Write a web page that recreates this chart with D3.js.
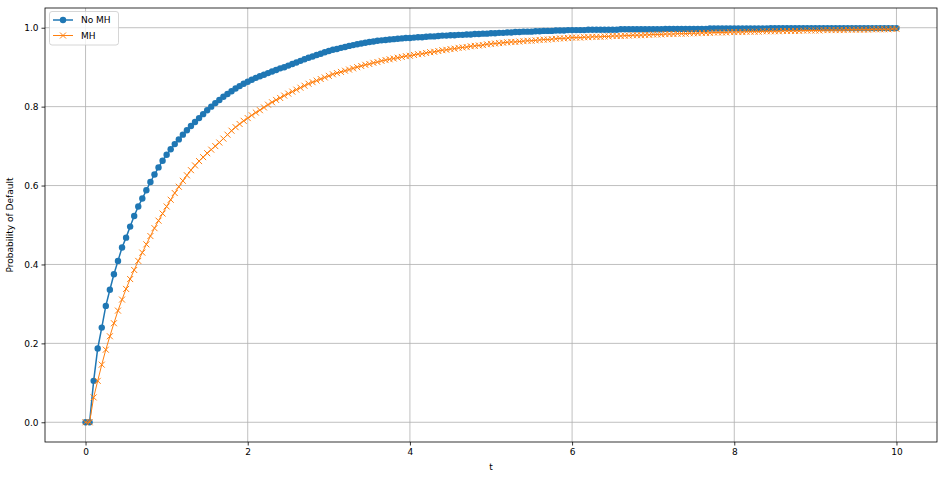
<!DOCTYPE html>
<html>
<head>
<meta charset="utf-8">
<script src="https://cdn.jsdelivr.net/npm/d3@7"></script>
<style>
  html, body { margin: 0; padding: 0; background: #ffffff; }
  svg { display: block; font-family: "DejaVu Sans", sans-serif; }
</style>
</head>
<body>
<svg id="chart" width="944" height="480"></svg>
<script>
// ---- data ----
const seriesNames = ["No MH", "MH"];
const tStep = 0.05;          // time grid spacing
const tCount = 201;          // 0 .. 10
const noMH = [
  0, 0, 0.105, 0.187, 0.240, 0.295, 0.336, 0.375, 0.409, 0.443,
  0.468, 0.496, 0.523, 0.547, 0.567, 0.588, 0.609, 0.628, 0.646, 0.663,
  0.678, 0.692, 0.705, 0.717, 0.729, 0.740, 0.751, 0.761, 0.771, 0.781,
  0.791, 0.800, 0.809, 0.817, 0.825, 0.832, 0.839, 0.846, 0.852, 0.858,
  0.863, 0.868, 0.873, 0.877, 0.881, 0.885, 0.889, 0.893, 0.897, 0.900,
  0.904, 0.908, 0.912, 0.916, 0.920, 0.924, 0.927, 0.931, 0.934, 0.938,
  0.941, 0.944, 0.946, 0.949, 0.951, 0.954, 0.956, 0.958, 0.960, 0.962,
  0.964, 0.965, 0.967, 0.968, 0.969, 0.970, 0.971, 0.972, 0.973, 0.974,
  0.974, 0.975, 0.976, 0.976, 0.977, 0.978, 0.978, 0.979, 0.980, 0.980,
  0.981, 0.981, 0.982, 0.982, 0.983, 0.983, 0.984, 0.984, 0.985, 0.985,
  0.986, 0.986, 0.987, 0.987, 0.988, 0.988, 0.989, 0.989, 0.990, 0.990,
  0.990, 0.991, 0.991, 0.992, 0.992, 0.992, 0.993, 0.993, 0.993, 0.994,
  0.994, 0.994, 0.994, 0.994, 0.995, 0.995, 0.995, 0.995, 0.995, 0.995,
  0.995, 0.995, 0.996, 0.996, 0.996, 0.996, 0.996, 0.996, 0.996, 0.996,
  0.996, 0.996, 0.996, 0.997, 0.997, 0.997, 0.997, 0.997, 0.997, 0.997,
  0.997, 0.997, 0.997, 0.997, 0.998, 0.998, 0.998, 0.998, 0.998, 0.998,
  0.998, 0.998, 0.998, 0.998, 0.998, 0.998, 0.998, 0.998, 0.998, 0.999,
  0.999, 0.999, 0.999, 0.999, 0.999, 0.999, 0.999, 0.999, 0.999, 0.999,
  0.999, 0.999, 0.999, 0.999, 0.999, 0.999, 0.999, 0.999, 0.999, 0.999,
  0.999, 0.999, 0.999, 0.999, 0.999, 0.999, 0.999, 0.999, 0.999, 0.999,
  0.999
];
const withMH = [
  0, 0, 0.063, 0.105, 0.146, 0.184, 0.218, 0.251, 0.283, 0.311,
  0.338, 0.363, 0.386, 0.409, 0.430, 0.451, 0.472, 0.492, 0.511, 0.529,
  0.547, 0.564, 0.581, 0.597, 0.612, 0.626, 0.639, 0.651, 0.662, 0.672,
  0.682, 0.691, 0.700, 0.709, 0.719, 0.729, 0.739, 0.748, 0.756, 0.764,
  0.771, 0.778, 0.785, 0.791, 0.798, 0.805, 0.811, 0.817, 0.822, 0.828,
  0.833, 0.838, 0.843, 0.848, 0.853, 0.858, 0.862, 0.866, 0.870, 0.874,
  0.878, 0.882, 0.885, 0.888, 0.891, 0.894, 0.897, 0.900, 0.903, 0.906,
  0.908, 0.911, 0.913, 0.916, 0.918, 0.920, 0.922, 0.924, 0.926, 0.928,
  0.929, 0.931, 0.933, 0.934, 0.936, 0.938, 0.939, 0.941, 0.943, 0.944,
  0.946, 0.947, 0.949, 0.950, 0.951, 0.953, 0.954, 0.955, 0.956, 0.958,
  0.959, 0.960, 0.961, 0.962, 0.963, 0.964, 0.964, 0.965, 0.966, 0.967,
  0.967, 0.968, 0.969, 0.970, 0.970, 0.971, 0.972, 0.973, 0.973, 0.974,
  0.975, 0.975, 0.975, 0.976, 0.976, 0.977, 0.977, 0.977, 0.978, 0.978,
  0.979, 0.979, 0.979, 0.980, 0.980, 0.981, 0.981, 0.981, 0.982, 0.982,
  0.983, 0.983, 0.983, 0.984, 0.984, 0.984, 0.985, 0.985, 0.985, 0.986,
  0.986, 0.986, 0.987, 0.987, 0.987, 0.988, 0.988, 0.988, 0.988, 0.989,
  0.989, 0.989, 0.989, 0.990, 0.990, 0.990, 0.990, 0.991, 0.991, 0.991,
  0.991, 0.991, 0.992, 0.992, 0.992, 0.992, 0.992, 0.993, 0.993, 0.993,
  0.993, 0.993, 0.994, 0.994, 0.994, 0.994, 0.994, 0.994, 0.995, 0.995,
  0.995, 0.995, 0.995, 0.995, 0.996, 0.996, 0.996, 0.996, 0.996, 0.997,
  0.997
];
const xTicks = [0, 2, 4, 6, 8, 10];
const yTicks = [0.0, 0.2, 0.4, 0.6, 0.8, 1.0];
const xLabel = "t";
const yLabel = "Probability of Default";

// ---- layout ----
const svg = d3.select("#chart");
const L = 45, R = 937, T = 8, B = 442;
const colors = ["#1f77b4", "#ff7f0e"];
const tGrid = d3.range(tCount).map(i => i * tStep);

const x = d3.scaleLinear().domain([-0.5, 10.5]).range([L, R]);
const y = d3.scaleLinear().domain([-0.05, 1.05]).range([B, T]);

// grid
const grid = svg.append("g");
grid.selectAll("line.vx").data(xTicks).join("line")
  .attr("x1", d => x(d)).attr("x2", d => x(d)).attr("y1", T).attr("y2", B)
  .attr("stroke", "#b0b0b0").attr("stroke-width", 0.8);
grid.selectAll("line.hy").data(yTicks).join("line")
  .attr("x1", L).attr("x2", R).attr("y1", d => y(d)).attr("y2", d => y(d))
  .attr("stroke", "#b0b0b0").attr("stroke-width", 0.8);

// axes
const xAxis = d3.axisBottom(x).tickValues(xTicks).tickFormat(d3.format("d")).tickSize(3.5).tickPadding(3);
const yAxis = d3.axisLeft(y).tickValues(yTicks).tickFormat(d3.format(".1f")).tickSize(3.5).tickPadding(3);
const gx = svg.append("g").attr("transform", `translate(0,${B})`).call(xAxis);
const gy = svg.append("g").attr("transform", `translate(${L},0)`).call(yAxis);
[gx, gy].forEach(g => {
  g.select(".domain").remove();
  g.selectAll(".tick line").attr("stroke", "#000").attr("stroke-width", 0.8);
  g.selectAll(".tick text").attr("fill", "#000").style("font-size", "9px")
    .style("font-family", "'DejaVu Sans', sans-serif");
});

// data series
const series = [noMH, withMH].map((vals, k) => ({
  name: seriesNames[k], color: colors[k],
  pts: vals.map((v, i) => ({ t: tGrid[i], v }))
}));
const line = d3.line().x(d => x(d.t)).y(d => y(d.v));

const plot = svg.append("g");
const rDot = 3.2;
// No MH: line + circles
plot.append("path").datum(series[0].pts).attr("d", line)
  .attr("fill", "none").attr("stroke", colors[0]).attr("stroke-width", 1.5);
plot.append("g").selectAll("circle").data(series[0].pts).join("circle")
  .attr("cx", d => x(d.t)).attr("cy", d => y(d.v)).attr("r", rDot)
  .attr("fill", colors[0]);
// MH: line + x markers
plot.append("path").datum(series[1].pts).attr("d", line)
  .attr("fill", "none").attr("stroke", colors[1]).attr("stroke-width", 1);
const xm = 3;
plot.append("g").selectAll("path").data(series[1].pts).join("path")
  .attr("d", d => {
    const cx = x(d.t), cy = y(d.v);
    return `M${cx - xm},${cy - xm}L${cx + xm},${cy + xm}M${cx - xm},${cy + xm}L${cx + xm},${cy - xm}`;
  })
  .attr("fill", "none").attr("stroke", colors[1]).attr("stroke-width", 1);

// spines
svg.append("rect").attr("x", L).attr("y", T).attr("width", R - L).attr("height", B - T)
  .attr("fill", "none").attr("stroke", "#000").attr("stroke-width", 0.8);

// axis labels
svg.append("text").attr("x", (L + R) / 2).attr("y", 470).attr("text-anchor", "middle")
  .style("font-size", "9px").text(xLabel);
svg.append("text").attr("transform", `translate(13,${(T + B) / 2}) rotate(-90)`)
  .attr("text-anchor", "middle").style("font-size", "9px").text(yLabel);

// legend
const lg = svg.append("g");
lg.append("rect").attr("x", 49.5).attr("y", 11.5).attr("width", 69).attr("height", 33.5)
  .attr("rx", 2.5).attr("fill", "#fff").attr("fill-opacity", 0.8)
  .attr("stroke", "#cccccc").attr("stroke-width", 0.8);
const rows = [20, 35.5];
series.forEach((s, k) => {
  const yy = rows[k];
  lg.append("line").attr("x1", 53).attr("x2", 73).attr("y1", yy).attr("y2", yy)
    .attr("stroke", s.color).attr("stroke-width", k === 0 ? 1.5 : 1);
  if (k === 0) {
    lg.append("circle").attr("cx", 63).attr("cy", yy).attr("r", rDot).attr("fill", s.color);
  } else {
    lg.append("path").attr("d", `M${63 - xm},${yy - xm}L${63 + xm},${yy + xm}M${63 - xm},${yy + xm}L${63 + xm},${yy - xm}`)
      .attr("stroke", s.color).attr("stroke-width", 1).attr("fill", "none");
  }
  lg.append("text").attr("x", 81).attr("y", yy).attr("dy", "0.35em")
    .style("font-size", "9px").text(s.name);
});
</script>
</body>
</html>
